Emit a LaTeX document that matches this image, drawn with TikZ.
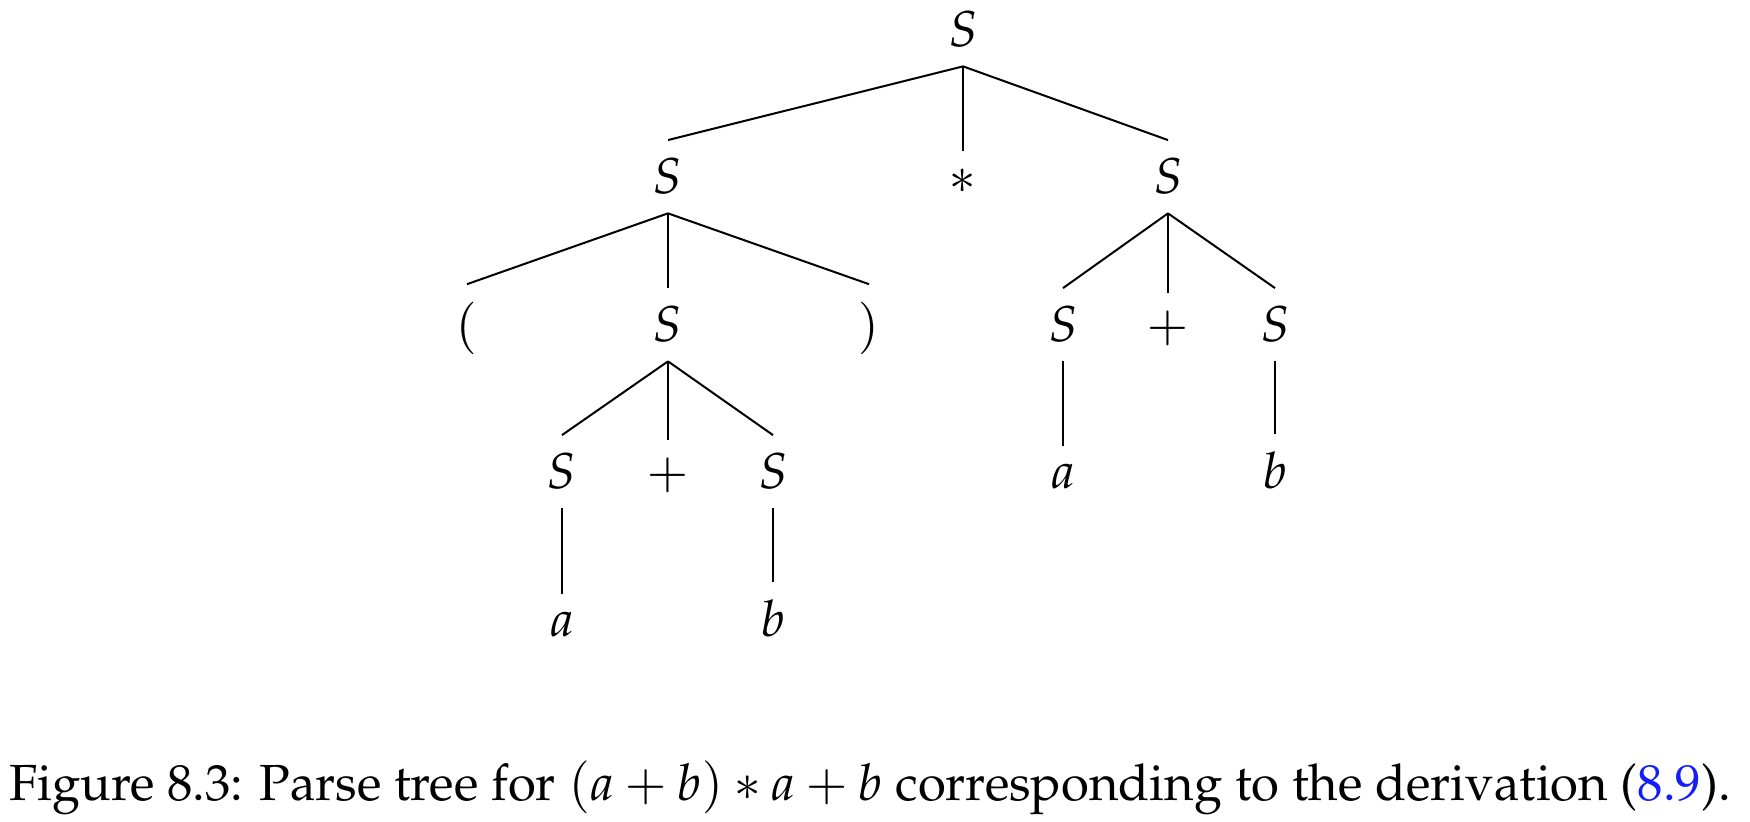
\documentclass[tikz,border=0pt]{standalone}
\usepackage[T1]{fontenc}
\usepackage{mathpazo}
\definecolor{linkblue}{RGB}{20,30,250}
\begin{document}
\begin{tikzpicture}[x=0.5pt,y=-0.5pt,
  tn/.style={anchor=base, inner xsep=0pt, inner ysep=9pt, font=\fontsize{25.2}{30}\selectfont},
  edge/.style={line width=1pt, line cap=butt}]
\useasboundingbox (0,0) rectangle (1750,822);
% level 0
\node[tn] (root) at (963,47) {$S$};
% level 1
\node[tn] (sL) at (668,194) {$S$};
\node[tn] (star) at (963,194) {$*$};
\node[tn] (sR) at (1168,194) {$S$};
% level 2
\node[tn] (lp) at (467,342) {$($};
\node[tn] (sM) at (668,342) {$S$};
\node[tn] (rp) at (869,342) {$)$};
\node[tn] (sRL) at (1063,342) {$S$};
\node[tn] (plR) at (1168,342) {$+$};
\node[tn] (sRR) at (1275,342) {$S$};
% level 3
\node[tn] (sML) at (562,489) {$S$};
\node[tn] (plM) at (668,489) {$+$};
\node[tn] (sMR) at (773,489) {$S$};
\node[tn] (aR) at (1063,489) {$a$};
\node[tn] (bR) at (1275,489) {$b$};
% level 4
\node[tn] (aL) at (562,637) {$a$};
\node[tn] (bL) at (773,637) {$b$};
% edges
\foreach \p/\c in {root/sL, root/star, root/sR,
                   sL/lp, sL/sM, sL/rp,
                   sR/sRL, sR/plR, sR/sRR,
                   sM/sML, sM/plM, sM/sMR,
                   sRL/aR, sRR/bR,
                   sML/aL, sMR/bL}
  \draw[edge] (\p.south) -- (\c.north);
% caption
\node[anchor=base west, inner sep=0pt, font=\fontsize{25.4}{30}\selectfont] (cap) at (9,800)
  {Figure 8.3: Parse tree for $(a+b)*a+b$ corresponding to the derivation (\textcolor{linkblue}{8.9}).};
\end{tikzpicture}
\end{document}
